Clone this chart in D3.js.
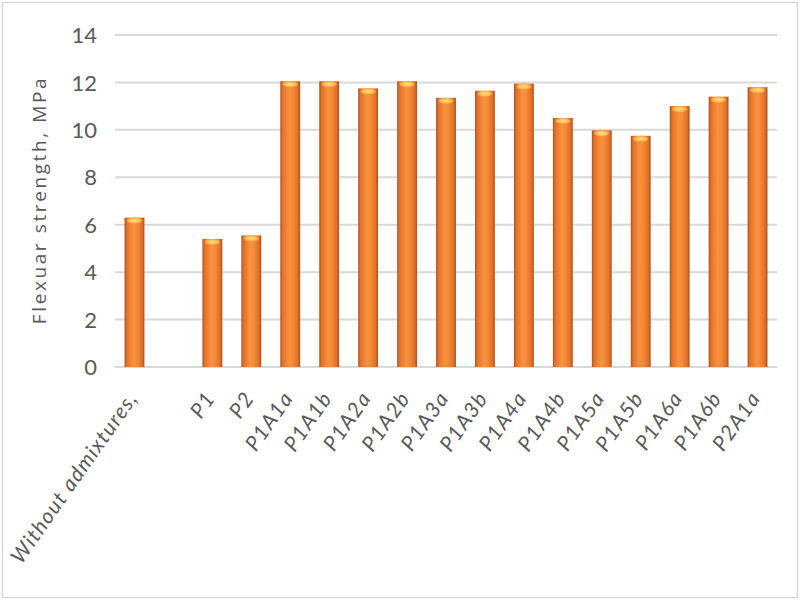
<!DOCTYPE html>
<html><head><meta charset="utf-8">
<script src="https://cdn.jsdelivr.net/npm/d3@7"></script>
<style>body{margin:0;background:#fff}svg{display:block}</style>
</head><body>
<script>
const categories = ["Without admixtures,", "", "P1", "P2", "P1A1a", "P1A1b", "P1A2a", "P1A2b", "P1A3a", "P1A3b", "P1A4a", "P1A4b", "P1A5a", "P1A5b", "P1A6a", "P1A6b", "P2A1a"];
const values = [6.3, null, 5.4, 5.55, 12.05, 12.05, 11.75, 12.05, 11.35, 11.65, 11.95, 10.5, 9.98, 9.75, 11.0, 11.4, 11.8];
const yTicks = [0, 2, 4, 6, 8, 10, 12, 14];
const yTitle = "Flexuar strength, MPa";

const W = 800, H = 600;
const svg = d3.select("body").append("svg").attr("width", W).attr("height", H);
svg.append("rect").attr("x", 2.5).attr("y", 2.5).attr("width", W - 5).attr("height", H - 5)
  .attr("fill", "#fff").attr("stroke", "#d9d9d9").attr("stroke-width", 1.5);

const x = d3.scaleBand().domain(categories.map((c, i) => i)).range([115, 777]).paddingInner(0.49).paddingOuter(0.245);
const y = d3.scaleLinear().domain([0, 14]).range([367, 35]);

const defs = svg.append("defs");
const g1 = defs.append("linearGradient").attr("id", "barg").attr("x1", "0").attr("x2", "1").attr("y1", "0").attr("y2", "0");
[["0%", "#b4501a"], ["12%", "#e3722a"], ["45%", "#f9923e"], ["60%", "#f78c38"], ["88%", "#e0702a"], ["100%", "#ad4c18"]]
  .forEach(s => g1.append("stop").attr("offset", s[0]).attr("stop-color", s[1]));
const g2 = defs.append("radialGradient").attr("id", "capg");
[["0%", "#ffe08a"], ["60%", "#ffc35a"], ["100%", "#f9a040"]]
  .forEach(s => g2.append("stop").attr("offset", s[0]).attr("stop-color", s[1]));

// gridlines
svg.append("g").selectAll("line").data(yTicks).join("line")
  .attr("x1", 115).attr("x2", 777).attr("y1", d => y(d)).attr("y2", d => y(d))
  .attr("stroke", "#d9d9d9").attr("stroke-width", 2);

// y axis labels
const yAxis = svg.append("g").attr("transform", "translate(99,0)")
  .call(d3.axisLeft(y).tickValues(yTicks).tickSize(0).tickPadding(2));
yAxis.select(".domain").remove();
yAxis.selectAll("text").attr("font-family", "Lato, 'Open Sans', sans-serif").attr("font-size", 22)
  .attr("fill", "#595959").attr("dy", "0.35em");

// y title
svg.append("text").attr("transform", "translate(46,200) rotate(-90)").attr("text-anchor", "middle")
  .attr("font-family", "'Open Sans', Lato, sans-serif").attr("font-size", 19).attr("letter-spacing", 2.6)
  .attr("fill", "#595959")
  .text(yTitle);

// bars
const data = categories.map((c, i) => ({ i, c, v: values[i] })).filter(d => d.v != null);
const bars = svg.append("g");
bars.selectAll("rect").data(data).join("rect")
  .attr("x", d => x(d.i)).attr("width", x.bandwidth())
  .attr("y", d => y(d.v)).attr("height", d => y(0) - y(d.v))
  .attr("fill", "url(#barg)");
bars.selectAll("ellipse").data(data).join("ellipse")
  .attr("cx", d => x(d.i) + x.bandwidth() / 2).attr("cy", d => y(d.v) + 3)
  .attr("rx", x.bandwidth() * 0.38).attr("ry", 3).attr("fill", "url(#capg)");

// x labels
svg.append("g").selectAll("text").data(categories.map((c, i) => ({ c, i })).filter(d => d.c !== "")).join("text")
  .attr("transform", d => `translate(${x(d.i) + x.bandwidth() / 2 + 4},${398}) rotate(-55)`)
  .attr("text-anchor", "end")
  .attr("font-family", "Lato, 'Open Sans', sans-serif").attr("font-style", "italic").attr("font-size", 21)
  .attr("letter-spacing", 1.3)
  .attr("fill", "#595959").text(d => d.c);
</script>
</body></html>
